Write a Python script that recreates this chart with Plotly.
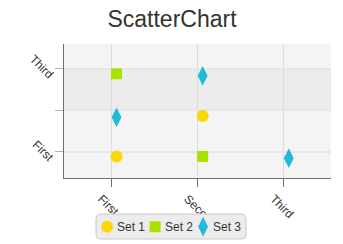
import plotly.graph_objects as go

categories = ["First", "Second", "Third"]
y_tick_text = ["First", "", "Third"]
series_names = ["Set 1", "Set 2", "Set 3"]

set1_x = [0.06, 1.06]
set1_y = [-0.12, 0.86]
set2_x = [0.06, 1.06]
set2_y = [1.88, -0.12]
set3_x = [0.06, 1.06, 2.06]
set3_y = [0.83, 1.83, -0.16]

colors = ["#f9d900", "#a9e200", "#22bad9"]
symbols = ["circle", "square", "diamond-tall"]
sizes = [12, 11, 14]
xs = [set1_x, set2_x, set3_x]
ys = [set1_y, set2_y, set3_y]

fig = go.Figure()
for name, x, y, c, s, sz in zip(series_names, xs, ys, colors, symbols, sizes):
    fig.add_trace(go.Scatter(x=x, y=y, mode="markers", name=" ",
                             hovertemplate=name + ": %{x}, %{y}<extra></extra>",
                             marker=dict(symbol=s, size=sz, color=c, line=dict(width=0))))

# alternating row band
fig.add_shape(type="rect", xref="paper", x0=0, x1=1, yref="y", y0=1, y1=2,
              fillcolor="#ececec", line=dict(width=0), layer="below")

plot_l, plot_b, plot_w, plot_h = 64, 178, 267, 134


def px(xp):
    return (xp - plot_l) / plot_w


def py(yp):
    return (plot_b - yp) / plot_h


# rounded legend box
bx0, by0, bx1, by1, r = 96, 214, 246, 239, 5
path = (
    f"M {px(bx0 + r)} {py(by0)} L {px(bx1 - r)} {py(by0)} "
    f"Q {px(bx1)} {py(by0)} {px(bx1)} {py(by0 + r)} L {px(bx1)} {py(by1 - r)} "
    f"Q {px(bx1)} {py(by1)} {px(bx1 - r)} {py(by1)} L {px(bx0 + r)} {py(by1)} "
    f"Q {px(bx0)} {py(by1)} {px(bx0)} {py(by1 - r)} L {px(bx0)} {py(by0 + r)} "
    f"Q {px(bx0)} {py(by0)} {px(bx0 + r)} {py(by0)} Z"
)
fig.add_shape(type="path", xref="paper", yref="paper", path=path,
              fillcolor="#ececec", line=dict(color="#c8c8c8", width=1), layer="above")

# legend labels (text drawn next to the legend symbols)
for i, name in enumerate(series_names):
    fig.add_annotation(text=name, xref="paper", yref="paper",
                       x=px(115 + 48 * i), y=py(226.5),
                       xanchor="left", yanchor="middle", showarrow=False,
                       font=dict(size=12, color="#333333"))

font_family = "Liberation Sans, Arial, sans-serif"
fig.update_layout(
    width=343, height=244,
    margin=dict(l=64, r=12, t=44, b=66, autoexpand=False),
    paper_bgcolor="white",
    plot_bgcolor="#f4f4f4",
    font=dict(family=font_family, size=12, color="#333333"),
    title=dict(text="ScatterChart", x=172 / 343, xanchor="center", xref="container",
               y=1 - 19 / 244, yref="container", yanchor="middle",
               font=dict(size=23, color="#333333")),
    showlegend=True,
    legend=dict(orientation="h", x=0.0865, xanchor="left", y=-0.255, yanchor="top",
                bgcolor="rgba(0,0,0,0)", borderwidth=0,
                font=dict(size=10, color="rgba(0,0,0,0)"), entrywidth=3,
                tracegroupgap=0),
    xaxis=dict(range=[-0.55, 2.55], tickvals=[0, 1, 2], ticktext=categories,
               tickangle=45, showgrid=True, gridcolor="#dcdcdc", gridwidth=1,
               zeroline=False, showline=True, linecolor="#6e6e6e", linewidth=1,
               ticks="outside", ticklen=8, tickcolor="#6e6e6e", automargin=False,
               ticklabelshift=-10,
               tickfont=dict(size=12, color="#333333")),
    yaxis=dict(range=[-0.64, 2.6], tickvals=[0, 1, 2], ticktext=y_tick_text,
               tickangle=45, showgrid=True, gridcolor="#e6e6e6", gridwidth=2,
               zeroline=False, showline=True, linecolor="#6e6e6e", linewidth=1,
               ticks="outside", ticklen=8, tickcolor="#b0b0b0", automargin=False,
               ticklabelshift=8,
               tickfont=dict(size=12, color="#333333")),
)

fig.write_html("out.html")
